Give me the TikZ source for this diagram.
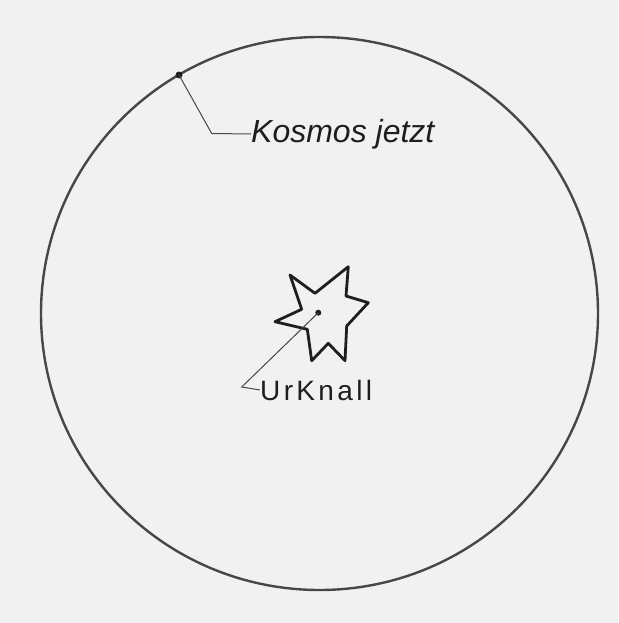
\documentclass[tikz,border=0pt]{standalone}
\usepackage{fontspec}
\newfontfamily\hand{Liberation Sans}
\newfontfamily\handsp[LetterSpace=12]{Liberation Sans}
\definecolor{paper}{HTML}{F1F1F1}
\definecolor{pencil}{HTML}{474747}
\definecolor{ink}{HTML}{1E1E1E}
\tikzset{
  rim/.style={draw=pencil, line width=2.4pt},
  burst/.style={draw=ink, line width=2.8pt, line join=round},
  leader/.style={draw=pencil, line width=1pt},
  lab/.style={anchor=west, inner sep=0pt, text=ink},
  spot/.style={circle, fill=ink, inner sep=0pt, minimum size=7pt}
}
\begin{document}
\begin{tikzpicture}[x=1pt,y=-1pt]
\fill[paper] (0,0) rectangle (618,623);
\useasboundingbox (0,0) rectangle (618,623);
% cosmos
\draw[rim] (319.5,313.5) ellipse [x radius=278.5, y radius=276.5];
% big bang star
\draw[burst] (290,275) -- (315,293.3) -- (348.3,266.7) -- (346,296) -- (368.3,302.7)
  -- (346.7,326) -- (345,360.7) -- (328.3,343.3) -- (311.7,360.7) -- (307.3,329.3)
  -- (275,321.7) -- (301.7,309.3) -- cycle;
% points
\node[spot] (now) at (179,75) {};
\node[spot, minimum size=6pt] (bang) at (318.3,312.7) {};
% labels
\node[lab, font=\hand\itshape\fontsize{32}{32}\selectfont] (kos) at (251,134) {Kosmos jetzt};
\node[lab, font=\handsp\fontsize{28}{28}\selectfont] (urk) at (260,390) {UrKnall};
% leaders
\coordinate (kbend) at (211.7,133.5);
\coordinate (ubend) at (241.7,387);
\draw[leader] (now.center) -- (kbend) -- (kos.west);
\draw[leader] (bang.center) -- (ubend) -- (urk.west);
\end{tikzpicture}
\end{document}
